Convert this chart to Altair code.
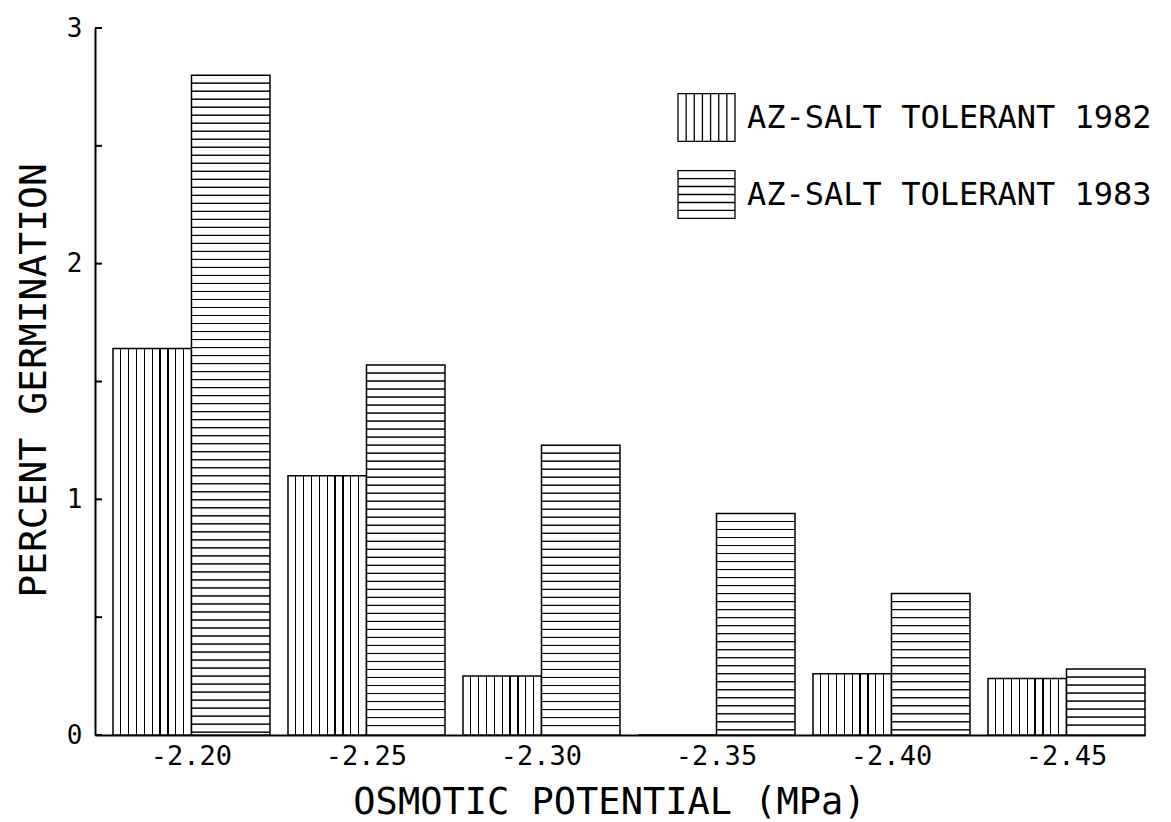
import altair as alt
import pandas as pd

# ---- data ----
potentials = ["-2.20", "-2.25", "-2.30", "-2.35", "-2.40", "-2.45"]
germ_1982 = [1.64, 1.10, 0.25, 0.0, 0.26, 0.24]
germ_1983 = [2.80, 1.57, 1.23, 0.94, 0.60, 0.28]
series_names = ["AZ-SALT TOLERANT 1982", "AZ-SALT TOLERANT 1983"]
y_tick_values = [0, 0.5, 1, 1.5, 2, 2.5, 3]
y_label_values = [0, 1, 2, 3]

FONT = "DejaVu Sans Mono"

rows = []
for p, a, b in zip(potentials, germ_1982, germ_1983):
    rows.append({"potential": p, "series": series_names[0], "value": a})
    rows.append({"potential": p, "series": series_names[1], "value": b})
bars_df = pd.DataFrame(rows)

# horizontal hatch lines inside the 1983 bars (decoration derived from the values)
hatch_step = 0.034
hatch_rows = []
for p, b in zip(potentials, germ_1983):
    k = 1
    while b - k * hatch_step > 0.01:
        hatch_rows.append({"potential": p, "series": series_names[1], "level": b - k * hatch_step})
        k += 1
hatch_df = pd.DataFrame(hatch_rows)

ticks_df = pd.DataFrame({"t": y_tick_values})

# vertical stripes for the 1982 bars as a hard-stop gradient
n_v = 10
half = 0.008
stops = [{"offset": 0, "color": "white"}]
for k in range(1, n_v):
    c = k / n_v
    stops += [
        {"offset": c - half, "color": "white"},
        {"offset": c - half, "color": "black"},
        {"offset": c + half, "color": "black"},
        {"offset": c + half, "color": "white"},
    ]
stops.append({"offset": 1, "color": "white"})
vgrad = {"gradient": "linear", "stops": stops, "x1": 0, "x2": 1, "y1": 0, "y2": 0}

# legend swatch paths
hy = 0.84
p1 = f"M-1,-{hy}H1V{hy}H-1Z" + "".join(
    f"M{-1 + 2 * k / 7:.3f},-{hy}V{hy}" for k in range(1, 7))
p2 = f"M-1,-{hy}H1V{hy}H-1Z" + "".join(
    f"M-1,{-hy + 2 * hy * k / 6:.3f}H1" for k in range(1, 6))

x_enc = alt.X(
    "potential:N",
    sort=potentials,
    scale=alt.Scale(paddingInner=0.1029, paddingOuter=0.0514, align=1),
    axis=alt.Axis(
        title="OSMOTIC POTENTIAL (MPa)",
        labelAngle=0,
        ticks=False,
        domainColor="black",
        domainWidth=2,
        labelFont=FONT,
        labelFontSize=27,
        labelColor="black",
        labelPadding=8,
        titleFont=FONT,
        titleFontSize=37,
        titleFontWeight="normal",
        titleColor="black",
        titleX=514,
        titleY=78,
        titleBaseline="alphabetic",
    ),
)
xoff_enc = alt.XOffset("series:N", scale=alt.Scale(domain=series_names, paddingInner=0, paddingOuter=0))

y_axis = alt.Axis(
    title="PERCENT GERMINATION",
    values=y_label_values,
    ticks=False,
    grid=False,
    domainColor="black",
    domainWidth=2,
    labelFont=FONT,
    labelFontSize=26,
    labelColor="black",
    labelPadding=13,
    titleFont=FONT,
    titleFontSize=38,
    titleFontWeight="normal",
    titleColor="black",
    titleAngle=270,
    titleX=-50,
    titleY=352,
    titleAlign="center",
    titleBaseline="alphabetic",
)
y_scale = alt.Scale(domain=[0, 3], nice=False)

bars82 = alt.Chart(bars_df).transform_filter(
    alt.datum.series == series_names[0]
).mark_bar(fill=vgrad, stroke="black", strokeWidth=1.5).encode(
    x=x_enc, xOffset=xoff_enc,
    y=alt.Y("value:Q", scale=y_scale, axis=y_axis, title="PERCENT GERMINATION"),
)

bars83 = alt.Chart(bars_df).transform_filter(
    alt.datum.series == series_names[1]
).mark_bar(fill="white", stroke="black", strokeWidth=1.5).encode(
    x=x_enc, xOffset=xoff_enc,
    y=alt.Y("value:Q", scale=y_scale, axis=y_axis, title="PERCENT GERMINATION"),
)

hatch = alt.Chart(hatch_df).mark_bar(fillOpacity=0, stroke="black", strokeWidth=1).encode(
    x=x_enc, xOffset=xoff_enc,
    y=alt.Y("level:Q", scale=y_scale, axis=y_axis, title="PERCENT GERMINATION"),
    y2="level:Q",
)

tick_marks = alt.Chart(ticks_df).mark_rule(color="black", strokeWidth=2).encode(
    y=alt.Y("t:Q", scale=y_scale, axis=y_axis, title="PERCENT GERMINATION"),
    x=alt.value(0),
    x2=alt.value(7),
)

legend_layer = alt.Chart(bars_df).mark_point(opacity=0, color="black", filled=False, strokeWidth=1.3).encode(
    x=x_enc, xOffset=xoff_enc,
    y=alt.Y("value:Q", scale=y_scale, axis=y_axis, title="PERCENT GERMINATION"),
    shape=alt.Shape(
        "series:N",
        scale=alt.Scale(domain=series_names, range=[p1, p2]),
        legend=alt.Legend(
            title=None,
            orient="none",
            legendX=582,
            legendY=60,
            symbolSize=3249,
            symbolStrokeWidth=1.3,
            symbolStrokeColor="black",
            symbolFillColor="white",
            symbolOpacity=1,
            labelFont=FONT,
            labelFontSize=32,
            labelColor="black",
            labelOffset=11,
            labelLimit=800,
            rowPadding=20,
            padding=0,
        ),
    ),
)

chart = alt.layer(bars82, bars83, hatch, tick_marks, legend_layer).properties(
    width=1050,
    height=707,
    padding={"left": 87, "top": 20, "right": 18, "bottom": 87},
    autosize=alt.AutoSizeParams(type="none"),
    background="white",
).configure_view(stroke=None)

chart.save("out.html", embed_options={"renderer": "svg", "actions": False})
